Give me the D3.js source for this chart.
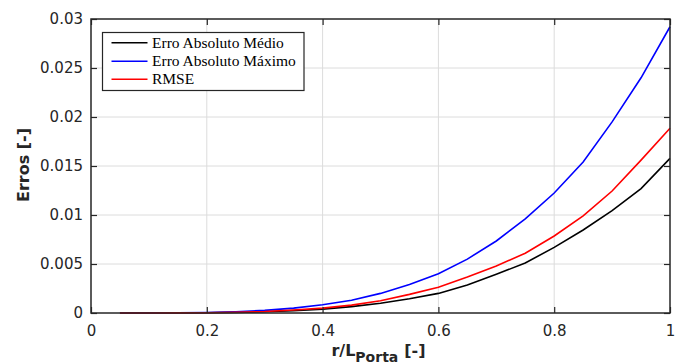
<!DOCTYPE html>
<html><head><meta charset="utf-8">
<script src="https://cdn.jsdelivr.net/npm/d3@7"></script>
<style>body{margin:0;background:#fff}svg{display:block}</style>
</head><body><svg id="c" width="686" height="364"></svg>
<script>
const xVals = [0.05,0.10,0.15,0.20,0.25,0.30,0.35,0.40,0.45,0.50,0.55,0.60,0.65,0.70,0.75,0.80,0.85,0.90,0.95,1.00];
const medio  = [0,0,0,0.00002,0.00006,0.00012,0.00024,0.0004,0.00065,0.001,0.00145,0.0020,0.00286,0.00395,0.0051,0.0067,0.00847,0.01044,0.0127,0.01578];
const maximo = [0,0,0.00002,0.00005,0.00013,0.00027,0.0005,0.00085,0.0013,0.0020,0.0029,0.0040,0.0055,0.00735,0.0096,0.01224,0.0154,0.0195,0.0240,0.02921];
const rmse   = [0,0,0.00001,0.00003,0.00007,0.00015,0.0003,0.0005,0.0008,0.00125,0.0019,0.00262,0.00367,0.0048,0.0061,0.00786,0.0099,0.01245,0.0156,0.01885];
const xTicks = [0,0.2,0.4,0.6,0.8,1];
const xTickLabels = ["0","0.2","0.4","0.6","0.8","1"];
const yTicks = [0,0.005,0.01,0.015,0.02,0.025,0.03];
const yTickLabels = ["0","0.005","0.01","0.015","0.02","0.025","0.03"];
const seriesNames = ["Erro Absoluto Médio","Erro Absoluto Máximo","RMSE"];
const seriesColors = ["#000000","#0000ff","#ff0000"];
const seriesData = [medio, maximo, rmse];

const svg = d3.select("#c");
const L=91, R=670, T=19, B=313;
const x = d3.scaleLinear().domain([0,1]).range([L,R]);
const y = d3.scaleLinear().domain([0,0.03]).range([B,T]);
const axisColor="#262626";

// grid
const g = svg.append("g");
g.selectAll(".gx").data(xTicks.slice(1,-1)).enter().append("line")
 .attr("x1",d=>x(d)).attr("x2",d=>x(d)).attr("y1",T).attr("y2",B)
 .attr("stroke","#dcdcdc").attr("stroke-width",1);
g.selectAll(".gy").data(yTicks.slice(1,-1)).enter().append("line")
 .attr("y1",d=>y(d)).attr("y2",d=>y(d)).attr("x1",L).attr("x2",R)
 .attr("stroke","#dcdcdc").attr("stroke-width",1);

// lines
const line = d3.line().x((d,i)=>x(xVals[i])).y(d=>y(d));
seriesData.forEach((s,k)=>{
  svg.append("path").datum(s).attr("d",line).attr("fill","none")
   .attr("stroke",seriesColors[k]).attr("stroke-width",1.6);
});

// axes
const tickFont = "DejaVu Sans, sans-serif";
function styleAxis(sel){
  sel.select(".domain").remove();
  sel.selectAll(".tick line").attr("stroke",axisColor).attr("stroke-width",1.2);
  sel.selectAll(".tick text").attr("fill",axisColor).style("font-family",tickFont).style("font-size","15px");
}
const xb = svg.append("g").attr("transform",`translate(0,${B})`)
 .call(d3.axisBottom(x).tickValues(xTicks).tickFormat((d,i)=>xTickLabels[i]).tickSizeInner(-6).tickSizeOuter(0).tickPadding(12));
styleAxis(xb);
const xt = svg.append("g").attr("transform",`translate(0,${T})`)
 .call(d3.axisTop(x).tickValues(xTicks).tickFormat("").tickSizeInner(-6).tickSizeOuter(0));
styleAxis(xt);
const yl = svg.append("g").attr("transform",`translate(${L},0)`)
 .call(d3.axisLeft(y).tickValues(yTicks).tickFormat((d,i)=>yTickLabels[i]).tickSizeInner(-6).tickSizeOuter(0).tickPadding(8));
styleAxis(yl);
const yr = svg.append("g").attr("transform",`translate(${R},0)`)
 .call(d3.axisRight(y).tickValues(yTicks).tickFormat("").tickSizeInner(-6).tickSizeOuter(0));
styleAxis(yr);

svg.append("rect").attr("x",L).attr("y",T).attr("width",R-L).attr("height",B-T)
 .attr("fill","none").attr("stroke",axisColor).attr("stroke-width",1.5);

// labels
svg.append("text").attr("transform",`translate(29,165) rotate(-90)`).attr("text-anchor","middle")
 .style("font-family",tickFont).style("font-weight","bold").style("font-size","16px").attr("fill",axisColor)
 .text("Erros [-]");
const xl = svg.append("text").attr("x",(L+R)/2 - 2).attr("y",356).attr("text-anchor","middle")
 .style("font-family",tickFont).style("font-weight","bold").style("font-size","16px").attr("fill",axisColor);
xl.append("tspan").text("r/L");
xl.append("tspan").attr("dy",6).style("font-size","14px").text("Porta");
xl.append("tspan").attr("dy",-6).attr("dx",6).text("[-]");

// legend
const lg = svg.append("g");
lg.append("rect").attr("x",102.5).attr("y",32.5).attr("width",201.5).attr("height",58)
 .attr("fill","#fff").attr("stroke",axisColor).attr("stroke-width",1.2);
const ly = [42.7,61.2,79.3];
seriesNames.forEach((n,k)=>{
  lg.append("line").attr("x1",111.5).attr("x2",147.5).attr("y1",ly[k]).attr("y2",ly[k])
   .attr("stroke",seriesColors[k]).attr("stroke-width",1.6);
  lg.append("text").attr("x",152).attr("y",ly[k]+5).style("font-family","Liberation Serif, serif")
   .style("font-size","15.5px").attr("fill","#000").text(n);
});
</script></body></html>
